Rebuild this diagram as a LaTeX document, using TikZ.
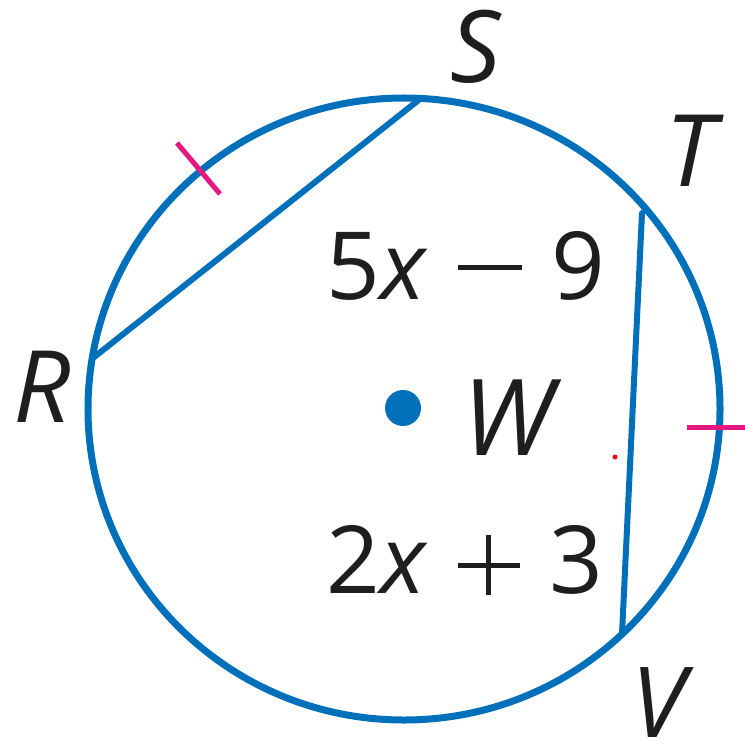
\documentclass[tikz,border=0pt]{standalone}
\usepackage{fontspec}
\setmainfont{Open Sans}
\definecolor{cblue}{RGB}{0,112,186}
\definecolor{cpink}{RGB}{228,24,128}
\definecolor{cred}{RGB}{255,0,0}
\definecolor{ctext}{RGB}{30,30,30}
\newcommand\myminus{\rule[29.5bp]{64bp}{5bp}}
\newcommand\myplus{\rlap{\rule[25.5bp]{62bp}{5bp}}\hspace{28.5bp}\rule[-2bp]{5bp}{60bp}\hspace{28.5bp}}
\begin{document}
\begin{tikzpicture}[x=1bp,y=-1bp,
  circ/.style={draw=cblue,line width=7bp},
  chord/.style={draw=cblue,line width=6bp,line cap=round},
  tick/.style={draw=cpink,line width=5bp},
  ptlabel/.style={inner sep=0pt,text=ctext,font=\fontsize{100bp}{100bp}\selectfont\itshape},
  exprlabel/.style={inner sep=0pt,text=ctext,font=\fontsize{94bp}{94bp}\selectfont}]
\useasboundingbox (0,0) rectangle (745,747);
% circle
\coordinate (W0) at (404,409);
\draw[circ] (W0) ellipse [x radius=316bp, y radius=311bp];
% points on circle
\coordinate (R) at (93,358);
\coordinate (S) at (420,99);
\coordinate (T) at (642,213);
\coordinate (V) at (622,634);
\draw[chord] (R) -- (S);
\draw[chord] (T) -- (V);
% congruence ticks
\coordinate (t1a) at (177,143);
\coordinate (t1b) at (220,194);
\draw[tick] (t1a) -- (t1b);
\coordinate (t2a) at (687,427);
\coordinate (t2b) at (746,427);
\draw[tick] (t2a) -- (t2b);
% center dot
\fill[cblue] (403,408) circle [radius=18bp];
\fill[cred] (615,457) circle [radius=2.5bp];
% labels
\node[ptlabel] (lS) at (476,47) {S};
\node[ptlabel] (lT) at (690,151) {T};
\node[ptlabel] (lR) at (42,387) {R};
\node[ptlabel,font=\fontsize{98bp}{98bp}\selectfont\itshape] (lV) at (658,703) {V};
\node[ptlabel,font=\fontsize{106bp}{106bp}\selectfont\itshape] (lW) at (508,418) {W};
\node[exprlabel] (e1) at (466,266) {5\textit{x}\hspace{30bp}\myminus\hspace{30bp}9};
\node[exprlabel] (e2) at (465,560) {2\textit{x}\hspace{30bp}\myplus\hspace{30bp}3};
\end{tikzpicture}
\end{document}
